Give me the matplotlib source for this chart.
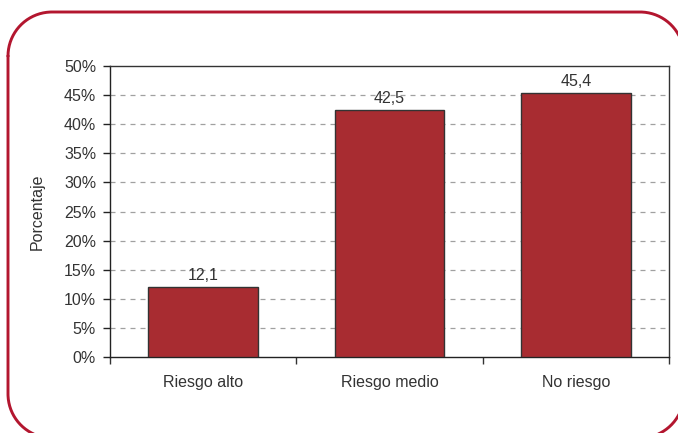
import numpy as np
import matplotlib
matplotlib.use("Agg")
import matplotlib.pyplot as plt

categorias = ["Riesgo alto", "Riesgo medio", "No riesgo"]
valores = [12.1, 42.5, 45.4]
etiquetas = ["12,1", "42,5", "45,4"]
yticks = [0, 5, 10, 15, 20, 25, 30, 35, 40, 45, 50]

plt.rcParams['font.family'] = ['Liberation Sans', 'DejaVu Sans']
fs = 11.5
txt = '#333333'

fig = plt.figure(figsize=(6.78, 4.33), dpi=100)

# red rounded frame, overlay in pixel units (y measured from the top)
fondo = fig.add_axes([0, 0, 1, 1], zorder=-1)
fondo.set_xlim(0, 678)
fondo.set_ylim(433, 0)
fondo.axis('off')
izq, der, arr, aba, r = 8, 684, 12, 438, 44
esquinas = [(izq + r, arr + r, 180, 270), (der - r, arr + r, 270, 360),
            (der - r, aba - r, 0, 90), (izq + r, aba - r, 90, 180)]
px, py = [], []
for cx, cy, a0, a1 in esquinas:
    t = np.radians(np.linspace(a0, a1, 40))
    px.extend(cx + r * np.cos(t))
    py.extend(cy + r * np.sin(t))
px.append(px[0])
py.append(py[0])
fondo.plot(px, py, color='#B3162F', linewidth=2.1, clip_on=False,
           solid_joinstyle='round', solid_capstyle='round')

ax = fig.add_axes([110/678, 76/433, 559/678, 291/433])
ax.set_facecolor('none')

x = np.arange(len(categorias))
ax.bar(x, valores, width=0.587, color='#A82C31', edgecolor='#333333', linewidth=1.0, zorder=3)
for xi, v, t in zip(x, valores, etiquetas):
    ax.text(xi, v + 0.6, t, ha='center', va='bottom', fontsize=fs, color=txt, zorder=4)

ax.set_xlim(-0.5, 2.5)
ax.set_ylim(0, 50)
ax.set_yticks(yticks)
ax.set_yticklabels([f"{t}%" for t in yticks], fontsize=fs, color=txt)
ax.set_xticks(x)
ax.set_xticklabels(categorias, fontsize=fs, color=txt)
ax.set_xticks([-0.5, 0.5, 1.5, 2.5], minor=True)
ax.tick_params(axis='x', which='major', length=0, pad=13)
ax.tick_params(axis='x', which='minor', length=5, width=1, direction='out', color='#333333')
ax.tick_params(axis='y', length=5, width=1, direction='out', pad=5, color='#222222')

for yv in yticks[1:-1]:
    ax.axhline(yv, color='#A0A0A0', linestyle=(0, (4, 4)), linewidth=0.9, zorder=1)

for s in ['left', 'bottom']:
    ax.spines[s].set_color('#222222')
    ax.spines[s].set_linewidth(1.0)
for s in ['top', 'right']:
    ax.spines[s].set_color('#333333')
    ax.spines[s].set_linewidth(1.0)

ax.set_ylabel('Porcentaje', fontsize=fs, color=txt, labelpad=14)

fig.savefig('out.png', dpi=100)
plt.close()
